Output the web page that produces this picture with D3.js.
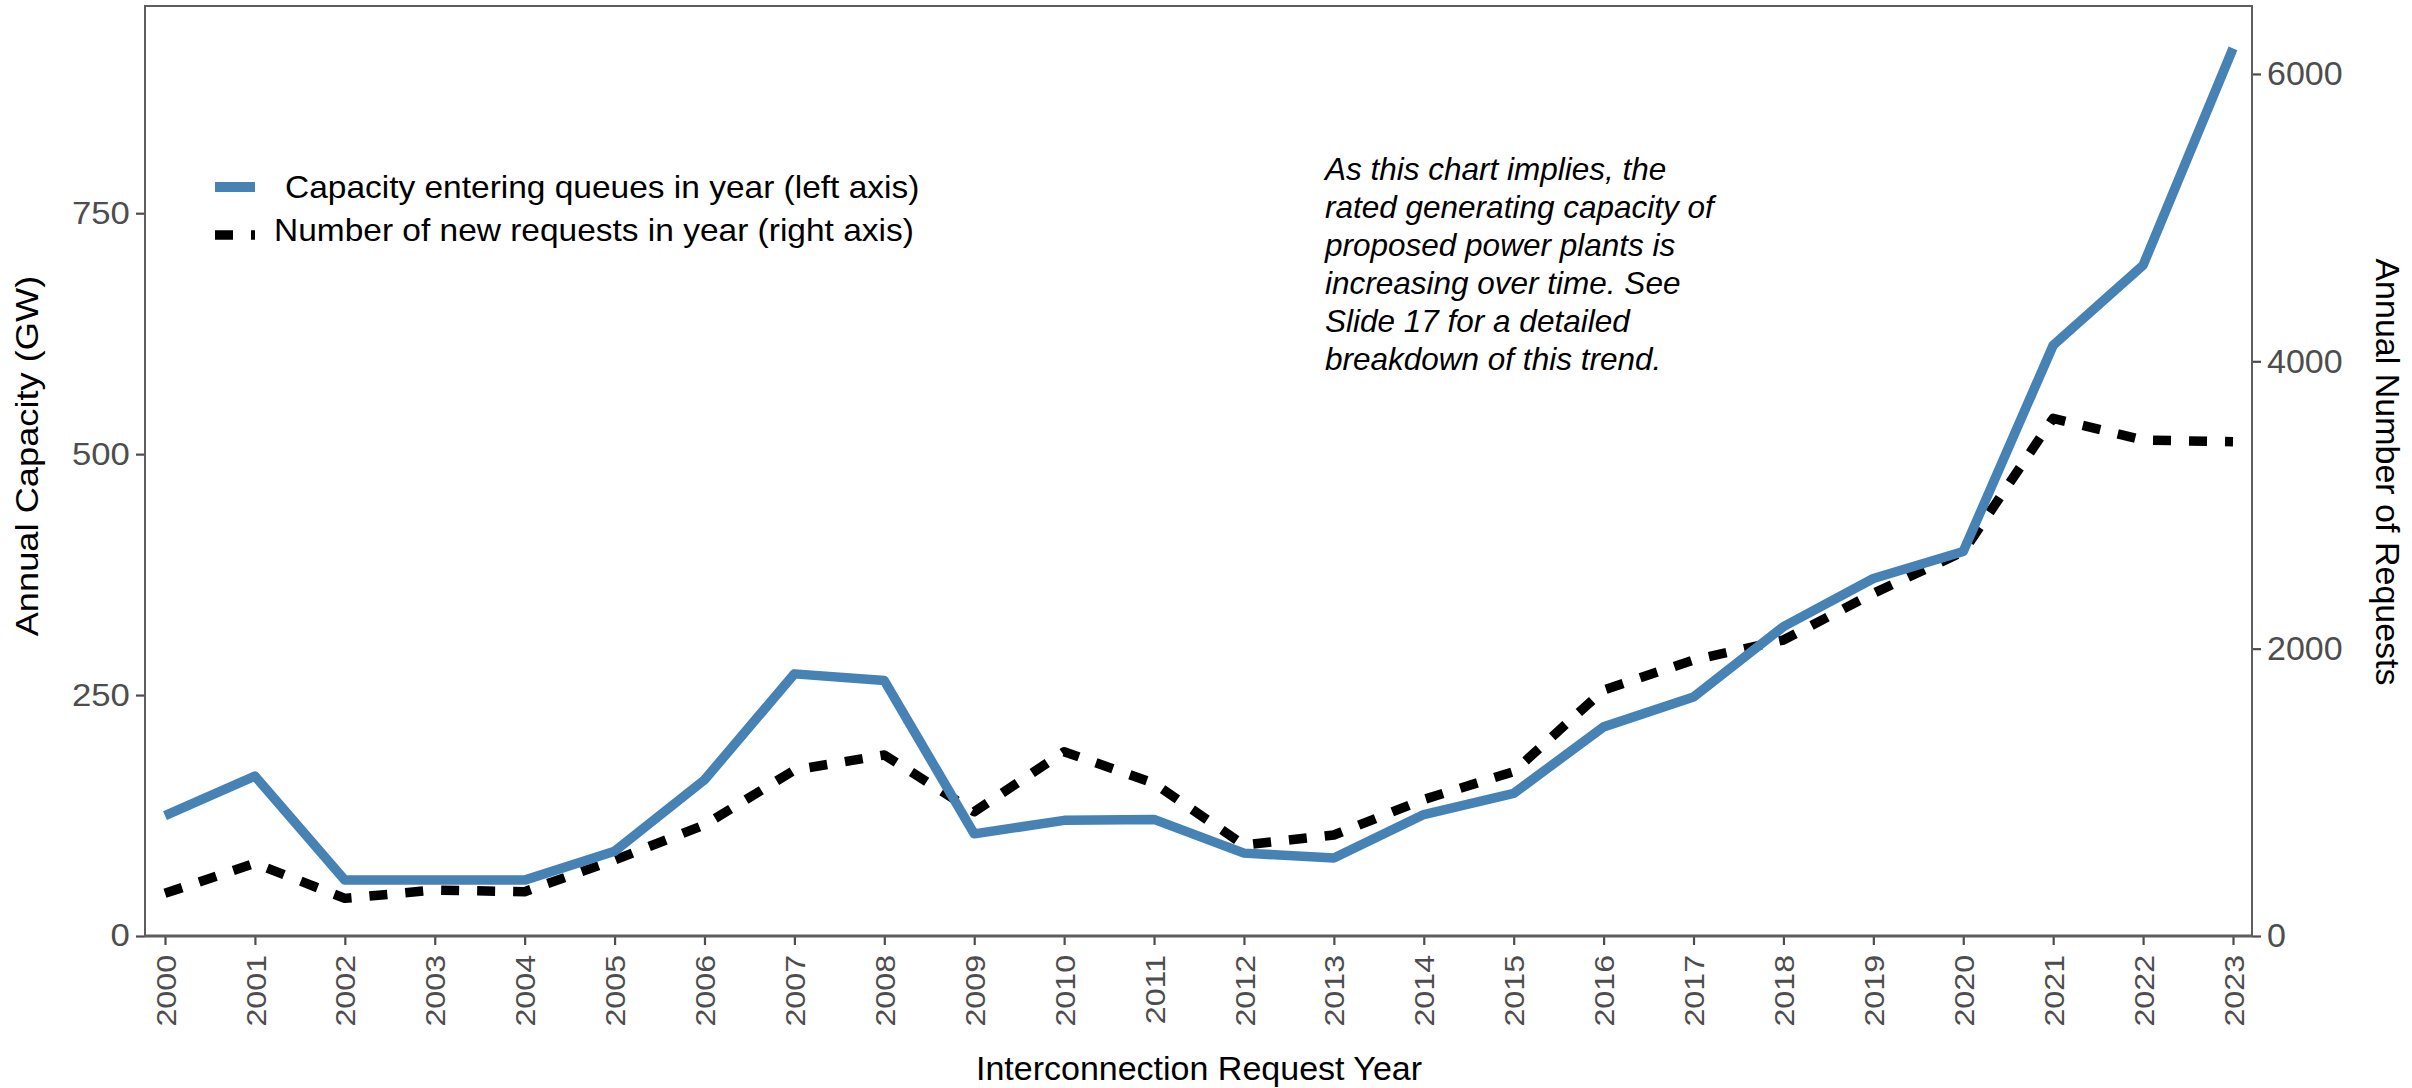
<!DOCTYPE html>
<html>
<head>
<meta charset="utf-8">
<script src="https://cdn.jsdelivr.net/npm/d3@7"></script>
<style>
  html, body { margin: 0; padding: 0; background: #ffffff; }
  svg { display: block; }
</style>
</head>
<body>
<script>
// ---------- data ----------
const years = [2000, 2001, 2002, 2003, 2004, 2005, 2006, 2007, 2008, 2009, 2010, 2011,
               2012, 2013, 2014, 2015, 2016, 2017, 2018, 2019, 2020, 2021, 2022, 2023];
const capacityGW = [125, 166, 58, 58, 58, 88, 162, 272, 265, 106, 120, 121,
                    86, 81, 126, 148, 217, 248, 321, 371, 399, 613, 696, 921];
const newRequests = [297, 506, 262, 320, 308, 529, 773, 1155, 1260, 865, 1283, 1063,
                     633, 703, 950, 1144, 1712, 1921, 2060, 2385, 2675, 3603, 3452, 3440];
const leftTicks = [0, 250, 500, 750];
const rightTicks = [0, 2000, 4000, 6000];
const seriesLabels = ["Capacity entering queues in year (left axis)",
                      "Number of new requests in year (right axis)"];
const annotationLines = ["As this chart implies, the",
                         "rated generating capacity of",
                         "proposed power plants is",
                         "increasing over time. See",
                         "Slide 17 for a detailed",
                         "breakdown of this trend."];
const xTitle = "Interconnection Request Year";
const yLeftTitle = "Annual Capacity (GW)";
const yRightTitle = "Annual Number of Requests";

// ---------- layout ----------
const W = 2412, H = 1088;
const panel = { left: 145, right: 2252, top: 6, bottom: 936 };
const FONT = "'Liberation Sans', Arial, Helvetica, sans-serif";
const TICKCOL = "#4d4d4d";
const BLUE = "#4682b4";

const svg = d3.select("body").append("svg")
  .attr("width", W).attr("height", H)
  .attr("viewBox", `0 0 ${W} ${H}`);

const x = d3.scaleLinear().domain([2000, 2023]).range([165, 2233]);
const yL = d3.scaleLinear().domain([0, 965]).range([panel.bottom, panel.top]);
const yR = d3.scaleLinear().domain([0, 6473]).range([panel.bottom, panel.top]);

// ---------- axes ----------
const axisL = svg.append("g")
  .attr("transform", `translate(${panel.left},0)`)
  .call(d3.axisLeft(yL).tickValues(leftTicks).tickSize(9).tickPadding(6).tickFormat(d3.format("d")));
const axisR = svg.append("g")
  .attr("transform", `translate(${panel.right},0)`)
  .call(d3.axisRight(yR).tickValues(rightTicks).tickSize(9).tickPadding(6).tickFormat(d3.format("d")));
const axisB = svg.append("g")
  .attr("transform", `translate(0,${panel.bottom})`)
  .call(d3.axisBottom(x).tickValues(years).tickSize(9).tickFormat(d3.format("d")));

[axisL, axisR, axisB].forEach(g => {
  g.select(".domain").remove();
  g.selectAll(".tick line").attr("stroke", "#4d4d4d").attr("stroke-width", 2.2);
  g.selectAll(".tick text").attr("fill", TICKCOL).attr("font-family", FONT);
});
axisL.selectAll(".tick text")
  .attr("font-size", 31)
  .attr("x", -13.5)
  .attr("transform", "scale(1.12,1)");
axisR.selectAll(".tick text").attr("font-size", 34);
axisB.selectAll(".tick text")
  .attr("font-size", 28)
  .attr("transform", "rotate(-90) scale(1.15,1)")
  .attr("text-anchor", "end")
  .attr("x", -16.5)
  .attr("y", 0)
  .attr("dy", "0.36em");

// panel border
svg.append("rect")
  .attr("x", panel.left).attr("y", panel.top)
  .attr("width", panel.right - panel.left).attr("height", panel.bottom - panel.top)
  .attr("fill", "none").attr("stroke", "#5e5e5e").attr("stroke-width", 2);
svg.append("line")
  .attr("x1", panel.left).attr("x2", panel.right)
  .attr("y1", panel.bottom).attr("y2", panel.bottom)
  .attr("stroke", "#5e5e5e").attr("stroke-width", 3);

// ---------- lines ----------
const lineCap = d3.line().x((d, i) => x(years[i])).y(d => yL(d));
const lineReq = d3.line().x((d, i) => x(years[i])).y(d => yR(d));

svg.append("path")
  .datum(newRequests)
  .attr("d", lineReq)
  .attr("fill", "none")
  .attr("stroke", "#000")
  .attr("stroke-width", 9.5)
  .attr("stroke-dasharray", "18,18")
  .attr("stroke-linejoin", "round");

svg.append("path")
  .datum(capacityGW)
  .attr("d", lineCap)
  .attr("fill", "none")
  .attr("stroke", BLUE)
  .attr("stroke-width", 9.5)
  .attr("stroke-linejoin", "round");

// ---------- axis titles ----------
svg.append("text")
  .attr("transform", `translate(38,456) rotate(-90) scale(1.17,1)`)
  .attr("text-anchor", "middle")
  .attr("font-family", FONT).attr("font-size", 31).attr("fill", "#000")
  .text(yLeftTitle);
svg.append("text")
  .attr("transform", `translate(2376,472) rotate(90)`)
  .attr("text-anchor", "middle")
  .attr("font-family", FONT).attr("font-size", 34).attr("fill", "#000")
  .text(yRightTitle);
svg.append("text")
  .attr("x", 1199).attr("y", 1080)
  .attr("text-anchor", "middle")
  .attr("font-family", FONT).attr("font-size", 34).attr("fill", "#000")
  .text(xTitle);

// ---------- legend ----------
const legend = svg.append("g");
legend.append("line")
  .attr("x1", 215).attr("x2", 255).attr("y1", 187).attr("y2", 187)
  .attr("stroke", BLUE).attr("stroke-width", 10);
legend.append("line")
  .attr("x1", 215).attr("x2", 255).attr("y1", 235).attr("y2", 235)
  .attr("stroke", "#000").attr("stroke-width", 9.5).attr("stroke-dasharray", "18,18");
legend.append("text")
  .attr("transform", "translate(285,198) scale(1.08,1)")
  .attr("font-family", FONT).attr("font-size", 31).attr("fill", "#000")
  .text(seriesLabels[0]);
legend.append("text")
  .attr("transform", "translate(274,241) scale(1.08,1)")
  .attr("font-family", FONT).attr("font-size", 31).attr("fill", "#000")
  .text(seriesLabels[1]);

// ---------- annotation ----------
const ann = svg.append("text")
  .attr("font-family", FONT).attr("font-size", 31.5)
  .attr("font-style", "italic").attr("fill", "#000");
annotationLines.forEach((t, i) => {
  ann.append("tspan").attr("x", 1325).attr("y", 180 + i * 37.9).text(t);
});
</script>
</body>
</html>
